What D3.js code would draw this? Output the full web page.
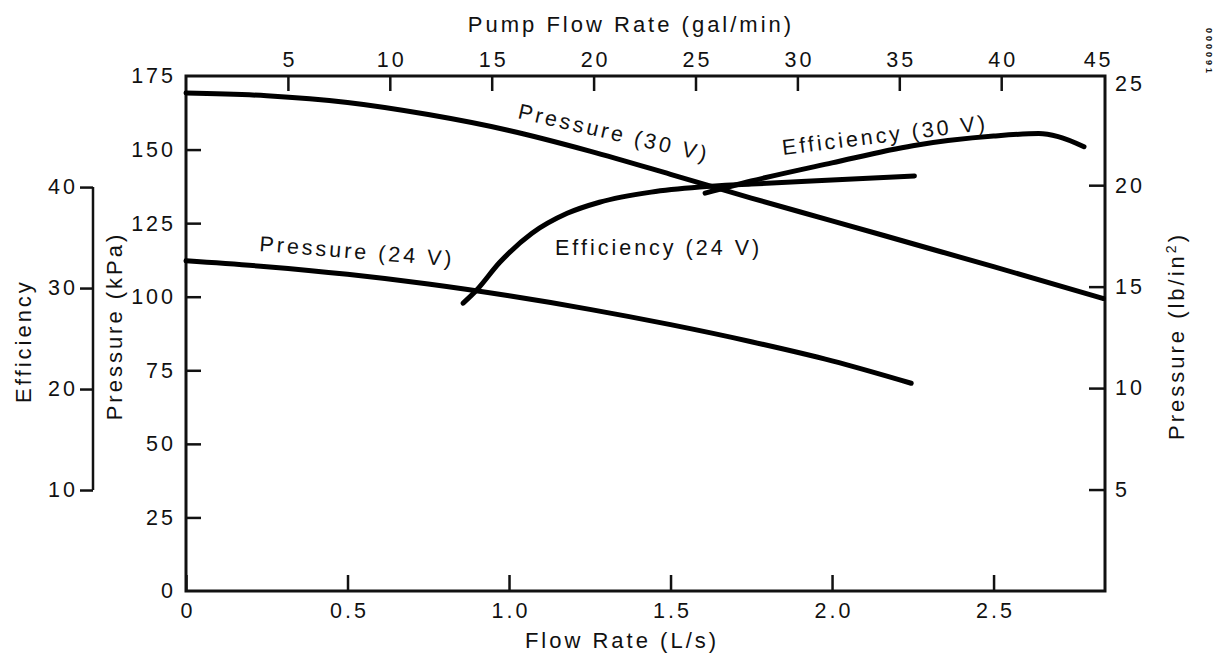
<!DOCTYPE html>
<html><head><meta charset="utf-8">
<script src="https://cdn.jsdelivr.net/npm/d3@7"></script>
<style>
body{margin:0;background:#fff;}
svg text{font-family:"Liberation Sans",Arial,Helvetica,sans-serif;fill:#111;letter-spacing:3px;}
</style></head><body>
<svg id="c" width="1229" height="658"></svg>
<script>
// ---- data ----
const flowTicks = [0, 0.5, 1.0, 1.5, 2.0, 2.5];
const flowTickLabels = ["0", "0.5", "1.0", "1.5", "2.0", "2.5"];
const gpmTicks = [5, 10, 15, 20, 25, 30, 35, 40, 45];
const kpaTicks = [0, 25, 50, 75, 100, 125, 150, 175];
const psiTicks = [5, 10, 15, 20, 25];
const effTicks = [10, 20, 30, 40];

const p30Flow = [0, 0.25, 0.5, 0.75, 1.0, 1.25, 1.5, 1.75, 2.0, 2.25, 2.5, 2.84];
const p30Kpa  = [169.2, 168.3, 166.0, 161.9, 156.5, 149.5, 141.6, 133.5, 125.8, 118.0, 110.2, 99.4];

const p24Flow = [0, 0.25, 0.5, 0.75, 1.0, 1.25, 1.5, 1.75, 2.0, 2.245];
const p24Kpa  = [112.2, 110.2, 107.6, 104.3, 100.3, 95.7, 90.5, 84.7, 78.2, 70.6];

const e24Flow = [0.858, 0.90, 0.97, 1.07, 1.18, 1.28, 1.44, 1.59, 1.75, 2.0, 2.255];
const e24Pct  = [28.5, 29.8, 32.5, 35.4, 37.4, 38.5, 39.5, 40.0, 40.3, 40.7, 41.1];

const e30Flow = [1.607, 1.75, 2.0, 2.25, 2.5, 2.64, 2.70, 2.78];
const e30Pct  = [39.4, 40.6, 42.4, 44.1, 45.05, 45.3, 45.0, 44.0];

const seriesLabels = ["Pressure (30 V)", "Pressure (24 V)", "Efficiency (30 V)", "Efficiency (24 V)"];

// ---- scales ----
const L = 186, R = 1105, T = 76, B = 591;
const LS_TO_GPM = 15.850, KPA_PER_PSI = 6.895;
const x = d3.scaleLinear().domain([0, 2.845]).range([L, R]);
const xTop = d3.scaleLinear().domain([0, 2.845 * LS_TO_GPM]).range([L, R]);
const y = d3.scaleLinear().domain([0, 175]).range([B, T]);
const yPsi = d3.scaleLinear().domain([0, 175 / KPA_PER_PSI]).range([B, T]);
const yEff = d3.scaleLinear().domain([0, 51]).range([B, T]);

const svg = d3.select("#c");
svg.append("rect").attr("width", 1229).attr("height", 658).attr("fill", "#fff");

const FS = "21.5px";
function style(g) {
  g.select(".domain").remove();
  g.selectAll(".tick line").attr("stroke", "#111").attr("stroke-width", 2.5);
  g.selectAll(".tick text").attr("font-size", FS);
  g.attr("font-family", null).attr("font-size", null);
}

// bottom axis
const gB = svg.append("g").attr("transform", `translate(0,${B})`)
  .call(d3.axisBottom(x).tickValues(flowTicks).tickFormat((d, i) => flowTickLabels[i]).tickSize(-16).tickPadding(12));
style(gB);
gB.selectAll(".tick text").attr("dx", "1.5px");

// top axis
const gT = svg.append("g").attr("transform", `translate(0,${T})`)
  .call(d3.axisTop(xTop).tickValues(gpmTicks).tickFormat(d3.format("d")).tickSize(-15).tickPadding(9));
style(gT);
gT.selectAll(".tick text").attr("dx", d => d === 45 ? "-5px" : "1.5px");
gT.selectAll(".tick line").filter(d => d === 45).remove();

// left kPa axis
const gL = svg.append("g").attr("transform", `translate(${L},0)`)
  .call(d3.axisLeft(y).tickValues(kpaTicks).tickSize(-15).tickPadding(10));
style(gL);
gL.selectAll(".tick line").filter(d => d === 0 || d === 175).remove();

// right psi axis
const gR = svg.append("g").attr("transform", `translate(${R},0)`)
  .call(d3.axisRight(yPsi).tickValues(psiTicks).tickSize(-16).tickPadding(10));
style(gR);
gR.selectAll(".tick line").filter(d => d === 25).remove();

// efficiency axis (outer left)
const EX = 93;
const gE = svg.append("g").attr("transform", `translate(${EX},0)`)
  .call(d3.axisLeft(yEff).tickValues(effTicks).tickSize(13).tickPadding(2));
style(gE);
svg.append("line").attr("x1", EX).attr("x2", EX)
  .attr("y1", yEff(d3.min(effTicks))).attr("y2", yEff(d3.max(effTicks)))
  .attr("stroke", "#111").attr("stroke-width", 2.5);

// frame
svg.append("rect").attr("x", L).attr("y", T).attr("width", R - L).attr("height", B - T)
  .attr("fill", "none").attr("stroke", "#111").attr("stroke-width", 3);

// curves
function curve(fl, vals, ys) {
  const pts = fl.map((f, i) => [x(f), ys(vals[i])]);
  svg.append("path").attr("d", d3.line().curve(d3.curveMonotoneX)(pts))
    .attr("fill", "none").attr("stroke", "#000").attr("stroke-width", 5)
    .attr("stroke-linecap", "round").attr("stroke-linejoin", "round");
}
curve(p30Flow, p30Kpa, y);
curve(p24Flow, p24Kpa, y);
curve(e24Flow, e24Pct, yEff);
curve(e30Flow, e30Pct, yEff);

// curve labels
function lab(txt, px, py, ang) {
  svg.append("text").attr("transform", `translate(${px},${py}) rotate(${ang})`)
    .attr("font-size", FS).text(txt);
}
lab(seriesLabels[0], 517, 118, 13);
lab(seriesLabels[1], 259, 251, 4.5);
lab(seriesLabels[2], 783, 155, -7);
lab(seriesLabels[3], 555, 255, 0);

// axis titles
svg.append("text").attr("x", 631).attr("y", 32).attr("text-anchor", "middle")
  .attr("font-size", "22px").text("Pump Flow Rate (gal/min)");
svg.append("text").attr("x", 622).attr("y", 648).attr("text-anchor", "middle")
  .attr("font-size", "22px").text("Flow Rate (L/s)");
svg.append("text").attr("transform", "translate(122,326) rotate(-90)").attr("text-anchor", "middle")
  .attr("font-size", "22px").text("Pressure (kPa)");
svg.append("text").attr("transform", "translate(31,341) rotate(-90)").attr("text-anchor", "middle")
  .attr("font-size", "22px").text("Efficiency");
const tr = svg.append("text").attr("transform", "translate(1184,336) rotate(-90)").attr("text-anchor", "middle")
  .attr("font-size", "22px");
tr.append("tspan").text("Pressure (lb/in");
tr.append("tspan").attr("font-size", "14px").attr("dy", "-8").text("2");
tr.append("tspan").attr("dy", "8").text(")");

// small stamp at top-right
svg.append("text").attr("transform", "translate(1206,28) rotate(90)")
  .attr("font-size", "9px").attr("font-weight", "bold").style("letter-spacing", "3px").text("000091");
</script>
</body></html>
